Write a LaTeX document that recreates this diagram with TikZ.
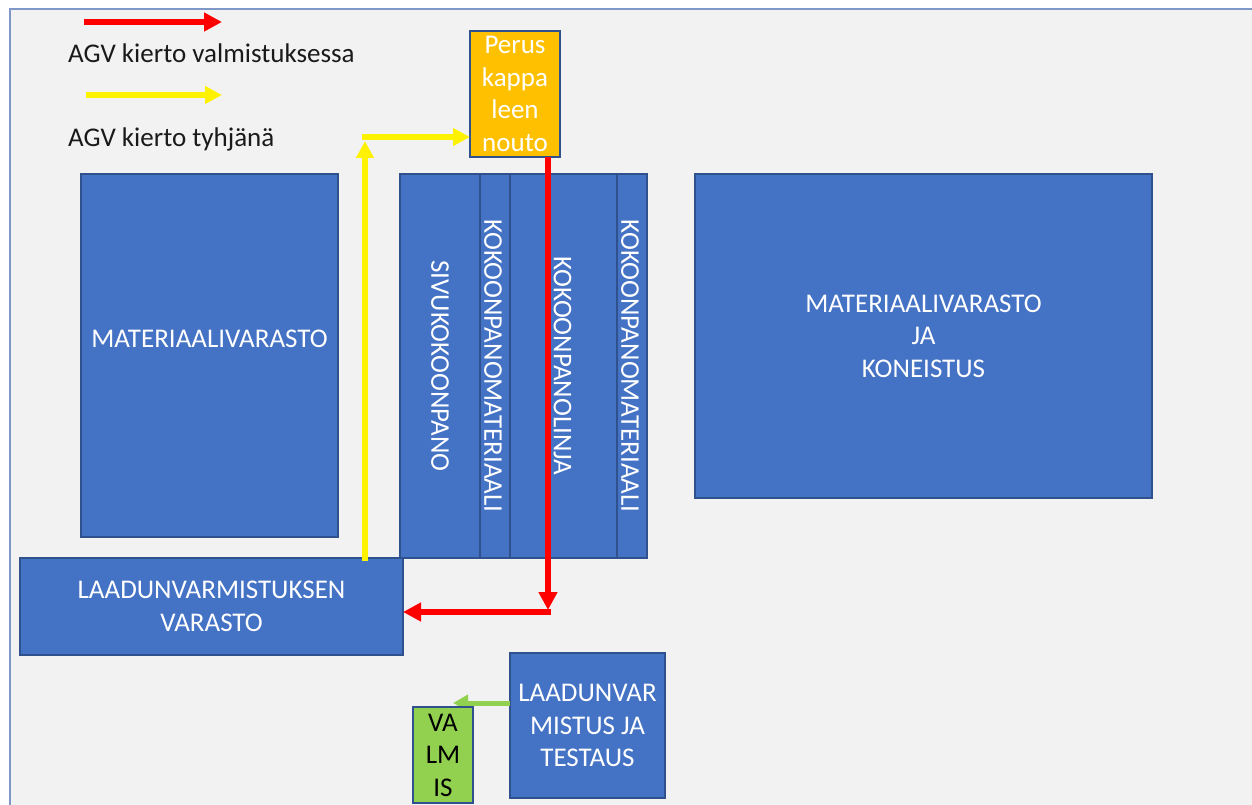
\documentclass[tikz,border=0pt]{standalone}
\usepackage{fontspec}
\setmainfont{Carlito}
\usetikzlibrary{arrows.meta}
\definecolor{boxblue}{HTML}{4472C4}
\definecolor{edgeblue}{HTML}{2F528F}
\definecolor{pagegray}{HTML}{F2F2F2}
\definecolor{framecol}{HTML}{7F98C8}
\definecolor{pickupcol}{HTML}{FFC000}
\definecolor{donecol}{HTML}{92D050}
\definecolor{textgray}{HTML}{1A1A1A}
\newcommand{\lblfont}{\fontsize{27}{32.5}\selectfont}

\begin{document}
\begin{tikzpicture}[x=1pt,y=-1pt,
  area/.style={draw=edgeblue, line width=1.2pt, fill=boxblue, inner sep=0pt,
    outer sep=0pt, text=white, align=center, font=\lblfont},
  vlabel/.style={text=white, font=\lblfont, rotate=-90, inner sep=0pt},
  legendtext/.style={text=textgray, font=\lblfont, anchor=base west, inner sep=0pt},
  redflow/.style={draw=red, line width=6.5pt, -{Triangle[length=18pt,width=18pt]}},
  yellowflow/.style={draw=yellow, line width=6.5pt, -{Triangle[length=17pt,width=17pt]}},
  greenflow/.style={draw=donecol, line width=5pt, -{Triangle[length=15pt,width=16pt]}}
]
% page and frame
\useasboundingbox (0,0) rectangle (1252,805);
\fill[white] (0,0) rectangle (1252,805);
\fill[pagegray] (10,9) rectangle (1252,805);
\draw[framecol, line width=1.5pt] (10,805) -- (10,9) -- (1252,9);

% legend
\coordinate (lr1) at (84,22);
\coordinate (lr2) at (222,22);
\coordinate (ly1) at (86,95);
\coordinate (ly2) at (222,95);
\draw[redflow] (lr1) -- (lr2);
\draw[yellowflow] (ly1) -- (ly2);
\node[legendtext] (legred) at (68,63) {AGV kierto valmistuksessa};
\node[legendtext] (legyellow) at (68,147) {AGV kierto tyhjänä};

% pick-up point
\node[area, fill=pickupcol, minimum width=90pt, minimum height=126pt] (pickup) at (515,94)
  {Perus\\kappa\\leen\\nouto};

% storage on the left
\node[area, minimum width=257pt, minimum height=363pt] (matstore) at (209.5,355.5) {};
\node[text=white, font=\lblfont, inner sep=0pt] (matstorelbl) at ([yshift=17pt]matstore.center) {MATERIAALIVARASTO};

% assembly block
\node[area, minimum width=80pt, minimum height=384pt] (subasm) at (440,366) {};
\node[area, minimum width=30pt, minimum height=384pt] (asmmat1) at (495,366) {};
\node[area, minimum width=107pt, minimum height=384pt] (asmline) at (563.5,366) {};
\node[area, minimum width=30pt, minimum height=384pt] (asmmat2) at (632,366) {};
\node[vlabel] (subasmlbl) at (subasm.center) {SIVUKOKOONPANO};
\node[vlabel] (asmmat1lbl) at ([xshift=-2pt]asmmat1.center) {KOKOONPANOMATERIAALI};
\node[vlabel] (asmlinelbl) at ([xshift=-1pt]asmline.center) {KOKOONPANOLINJA};
\node[vlabel] (asmmat2lbl) at ([xshift=-2pt]asmmat2.center) {KOKOONPANOMATERIAALI};

% storage and machining on the right
\node[area, minimum width=457pt, minimum height=324pt] (machining) at (923.5,336)
  {MATERIAALIVARASTO\\JA\\KONEISTUS};

% quality storage
\node[area, minimum width=383pt, minimum height=97pt] (qstore) at (211.5,606.5)
  {LAADUNVARMISTUKSEN\\VARASTO};

% quality assurance and testing
\node[area, minimum width=155pt, minimum height=145pt] (qtest) at (587.5,725.5)
  {LAADUNVAR\\MISTUS JA\\TESTAUS};

% AGV route while loaded
\coordinate (redturn) at (548,612);
\draw[redflow] ([xshift=33pt]pickup.south) -- ([yshift=2pt]redturn);
\draw[redflow] ([xshift=3pt]redturn) -- (redturn -| qstore.east);

% AGV route while empty
\coordinate (yturn) at (365,137);
\draw[yellowflow] ([yshift=-3pt]qstore.north -| yturn) -- ([yshift=-4pt]yturn);
\draw[yellowflow] ([xshift=-3pt]yturn) -- (yturn -| pickup.west);

% finished products
\coordinate (gtip) at (453,703);
\draw[greenflow] (qtest.west |- gtip) -- (gtip);
\node[area, fill=donecol, text=black, minimum width=60pt, minimum height=96pt] (finished) at (443,755)
  {VA\\LM\\IS};
\end{tikzpicture}
\end{document}
